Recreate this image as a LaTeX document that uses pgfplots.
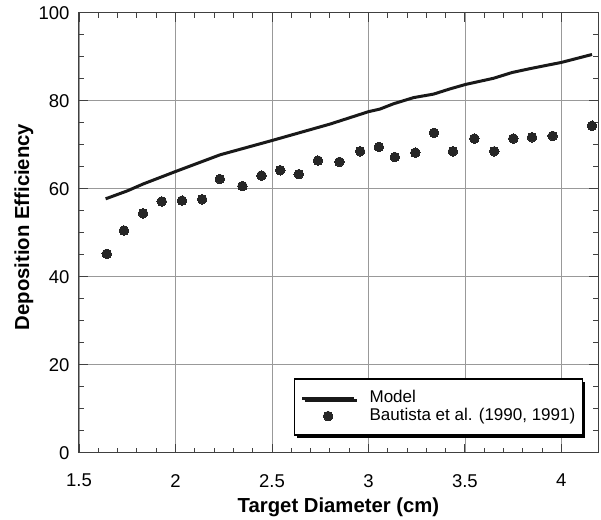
\documentclass[border=0pt]{standalone}
\usepackage{fontspec}
\setmainfont{Liberation Sans}
\usepackage{pgfplots}
\pgfplotsset{compat=1.18}
\usetikzlibrary{shadows}

% measured model curve
\pgfplotstableread{
x y
1.638 57.7
1.75 59.5
1.834 61.1
2.0 63.9
2.231 67.7
2.496 70.9
2.802 74.7
3.0 77.5
3.06 78.1
3.13 79.3
3.234 80.7
3.338 81.5
3.424 82.7
3.504 83.7
3.649 85.1
3.744 86.4
3.839 87.3
4.0 88.7
4.159 90.5
}\modeltab

% Bautista et al. measurements
\pgfplotstableread{
x y
1.644 45.2
1.733 50.5
1.832 54.4
1.929 57.1
2.034 57.3
2.138 57.6
2.230 62.2
2.347 60.6
2.446 63.0
2.543 64.2
2.639 63.3
2.738 66.4
2.850 66.1
2.957 68.5
3.054 69.5
3.137 67.2
3.243 68.2
3.340 72.7
3.438 68.5
3.549 71.4
3.652 68.5
3.751 71.4
3.848 71.7
3.955 72.0
4.159 74.3
}\datatab

\begin{document}
\begin{tikzpicture}
\useasboundingbox (-79pt,-67pt) rectangle (522pt,452.7pt);
\begin{axis}[
  scale only axis,
  width=519pt, height=440pt,
  xmin=1.5, xmax=4.19,
  ymin=0, ymax=100,
  xtick={1.5,2,2.5,3,3.5,4},
  ytick={0,20,40,60,80,100},
  minor x tick num=4,
  minor y tick num=3,
  tick align=inside,
  major tick length=9pt,
  minor tick length=5pt,
  every tick/.style={black!75, line width=0.8pt},
  axis line style={black!75, line width=1pt},
  grid=major,
  major grid style={gray!80, line width=0.6pt},
  /pgf/number format/assume math mode=true,
  tick label style={font=\fontsize{18.5}{22}\selectfont},
  xticklabel style={yshift=-18pt},
  yticklabel style={xshift=-6pt},
  xlabel={\textbf{Target Diameter (cm)}},
  ylabel={\textbf{Deposition Efficiency}},
  label style={font=\fontsize{20.3}{24}\selectfont},
  xlabel style={at={(axis description cs:0.5,-0.125)}, anchor=center},
  ylabel style={at={(axis description cs:-0.106,0.513)}, anchor=center},
  legend cell align=left,
  legend image code/.code={\draw[mark repeat=2,mark phase=2] plot coordinates {(0pt,0pt) (26pt,0pt) (52pt,0pt)};},
  legend style={at={(rel axis cs:0.971,0.0386)}, anchor=south east,
    draw=black, line width=1.3pt, fill=white,
    font=\fontsize{17}{19}\selectfont,
    inner xsep=6pt, inner ysep=10pt, row sep=0pt,
    nodes={inner sep=1pt, text height=12.5pt, text depth=3.5pt},
    /tikz/every odd column/.append style={column sep=13pt},
    drop shadow={shadow xshift=2.5pt, shadow yshift=-2.5pt, fill=black, opacity=1}},
]
\addplot[black!90, line width=3pt, no markers] table {\modeltab};
\addlegendentry{Model}
\addplot[only marks, mark=*, mark size=4.8pt, mark options={fill=black!85, draw=black!85, line width=0pt}] table {\datatab};
\addlegendentry{Bautista et al. (1990, 1991)}
\end{axis}
\end{tikzpicture}
\end{document}
